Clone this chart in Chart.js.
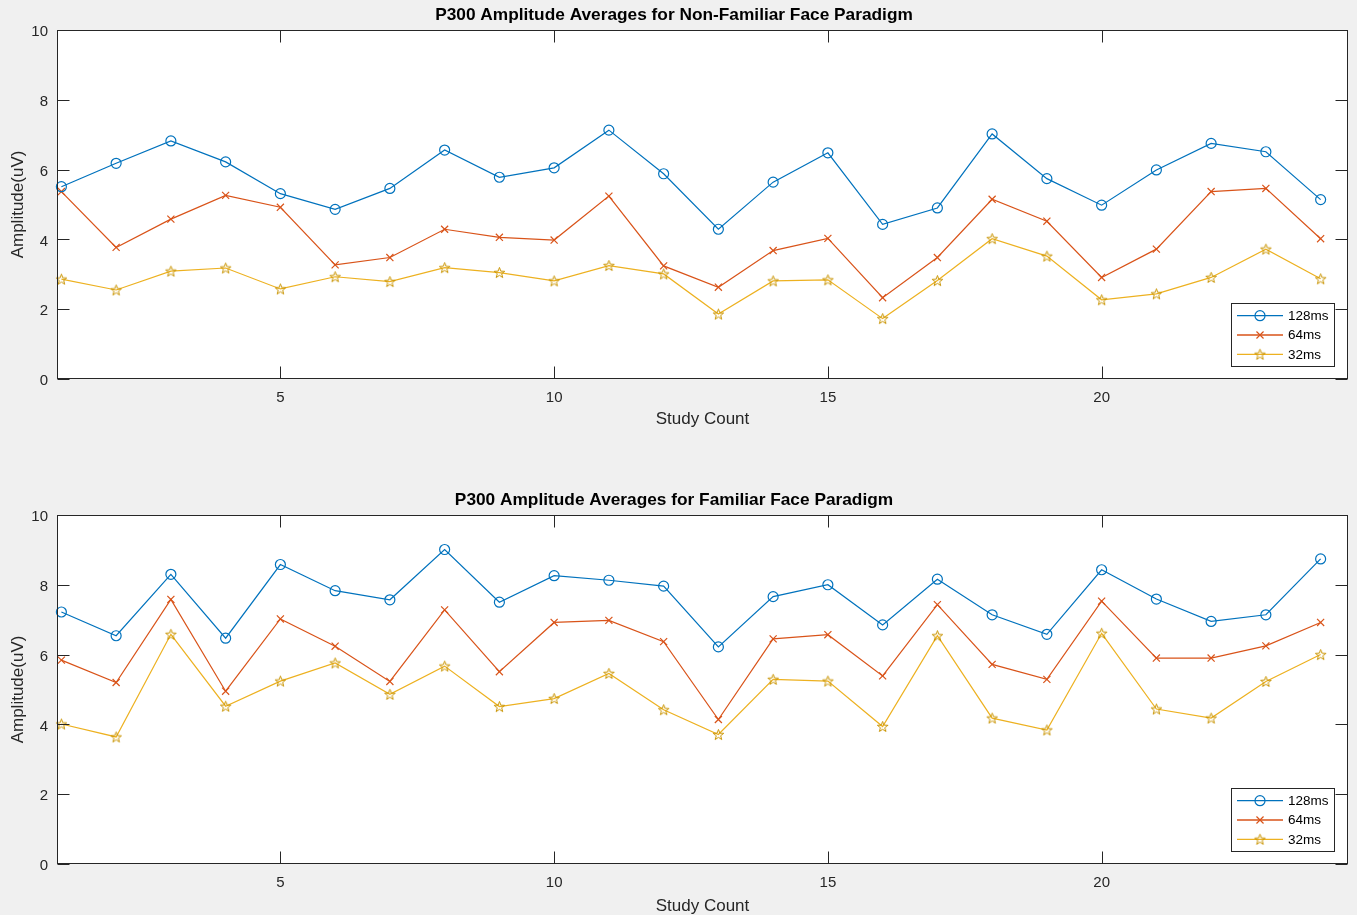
<!DOCTYPE html>
<html><head><meta charset="utf-8">
<script src="https://cdn.jsdelivr.net/npm/chart.js@4.4.0/dist/chart.umd.min.js"></script>
<style>
html,body{margin:0;padding:0;background:#f0f0f0;width:1357px;height:915px;overflow:hidden;}
.wrap{position:absolute;left:0;width:1357px;height:430px;}
#w1{top:0}
#w2{top:485px}
canvas{display:block}
</style></head><body>
<div class="wrap" id="w1"><canvas id="c1" width="1357" height="430"></canvas></div>
<div class="wrap" id="w2"><canvas id="c2" width="1357" height="430"></canvas></div>
<script>
// ---------- data ----------
const studyCount = [1,2,3,4,5,6,7,8,9,10,11,12,13,14,15,16,17,18,19,20,21,22,23,24];
const xTickValues = [5,10,15,20];
const yTickValues = [0,2,4,6,8,10];
const seriesLabels = ['128ms','64ms','32ms'];
const chartTitles = ['P300 Amplitude Averages for Non-Familiar Face Paradigm','P300 Amplitude Averages for Familiar Face Paradigm'];
const xAxisTitle = 'Study Count';
const yAxisTitle = 'Amplitude(uV)';

const nonFamiliar128 = [5.51,6.18,6.82,6.22,5.31,4.86,5.46,6.56,5.78,6.05,7.13,5.88,4.29,5.64,6.48,4.43,4.90,7.02,5.74,4.98,5.99,6.75,6.51,5.14];
const nonFamiliar64  = [5.37,3.77,4.58,5.26,4.92,3.27,3.48,4.29,4.06,3.98,5.24,3.24,2.63,3.68,4.03,2.33,3.48,5.15,4.52,2.91,3.72,5.37,5.46,4.02];
const nonFamiliar32  = [2.86,2.55,3.09,3.18,2.58,2.93,2.79,3.19,3.05,2.81,3.25,3.01,1.86,2.81,2.84,1.73,2.82,4.02,3.52,2.27,2.44,2.91,3.72,2.87];

const familiar128 = [7.22,6.54,8.30,6.47,8.58,7.83,7.57,9.01,7.50,8.26,8.13,7.96,6.22,7.66,8.00,6.85,8.16,7.14,6.58,8.43,7.59,6.95,7.14,8.74];
const familiar64  = [5.84,5.20,7.58,4.95,7.02,6.24,5.23,7.28,5.51,6.92,6.98,6.37,4.14,6.45,6.57,5.39,7.43,5.72,5.29,7.53,5.90,5.90,6.25,6.92];
const familiar32  = [4.01,3.64,6.58,4.52,5.24,5.76,4.86,5.67,4.51,4.74,5.46,4.42,3.71,5.29,5.24,3.94,6.54,4.18,3.84,6.61,4.44,4.18,5.23,6.00];

// ---------- styling ----------
const COLORS = ['#0072BD','#D95319','#EDB120'];
const AXIS = '#262626';
const FONT = '"Liberation Sans", Arial, Helvetica, sans-serif';

function makePentagram(){
  const c = document.createElement('canvas');
  c.width = 13; c.height = 13;
  const g = c.getContext('2d');
  const cx = 6.5, cy = 7, R = 5.6, r = 2.3;
  g.beginPath();
  for (let i = 0; i < 10; i++) {
    const ang = -Math.PI/2 + i*Math.PI/5;
    const rad = (i % 2 === 0) ? R : r;
    const px = cx + rad*Math.cos(ang), py = cy + rad*Math.sin(ang);
    if (i === 0) g.moveTo(px, py); else g.lineTo(px, py);
  }
  g.closePath();
  g.strokeStyle = '#C99400';
  g.lineWidth = 1;
  g.stroke();
  return c;
}
const starImg = makePentagram();

function pts(vals){ return studyCount.map((x,i)=>({x:x, y:vals[i]})); }

function makeDatasets(v128, v64, v32){
  const styles = ['circle','crossRot', starImg];
  const radii = [5,5,6];
  return [v128, v64, v32].map((vals, i) => ({
    label: seriesLabels[i],
    data: pts(vals),
    borderColor: COLORS[i],
    backgroundColor: 'rgba(0,0,0,0)',
    borderWidth: 1.2,
    pointStyle: styles[i],
    pointRadius: radii[i],
    pointBorderWidth: 1.2,
    pointBorderColor: COLORS[i],
    pointBackgroundColor: 'rgba(0,0,0,0)',
    tension: 0,
    clip: false
  }));
}

function drawMarker(ctx, ds, x, y){
  ctx.save();
  ctx.strokeStyle = ds.pointBorderColor;
  ctx.fillStyle = 'rgba(0,0,0,0)';
  ctx.lineWidth = ds.pointBorderWidth;
  if (Chart.helpers && Chart.helpers.drawPoint) {
    Chart.helpers.drawPoint(ctx, {pointStyle: ds.pointStyle, rotation: 0, radius: ds.pointRadius, borderWidth: ds.pointBorderWidth}, x, y);
  } else if (ds.pointStyle instanceof HTMLCanvasElement) {
    ctx.drawImage(ds.pointStyle, x - ds.pointStyle.width/2, y - ds.pointStyle.height/2);
  } else {
    ctx.beginPath(); ctx.arc(x, y, ds.pointRadius, 0, Math.PI*2); ctx.stroke();
  }
  ctx.restore();
}

const framePlugin = {
  id: 'matlabFrame',
  beforeDraw(chart){
    const {ctx, chartArea: a} = chart;
    ctx.save();
    ctx.fillStyle = '#ffffff';
    ctx.fillRect(a.left, a.top, a.right - a.left, a.bottom - a.top);
    ctx.restore();
  },
  afterDatasetsDraw(chart){
    const {ctx, chartArea: a, scales: {x, y}} = chart;
    ctx.save();
    ctx.strokeStyle = AXIS;
    ctx.lineWidth = 1;
    const L = Math.round(a.left) + 0.5, R = Math.round(a.right) - 0.5;
    const T = Math.round(a.top) + 0.5, B = Math.round(a.bottom) - 0.5;
    const tl = 12;
    ctx.beginPath();
    y.ticks.forEach(t => {
      const p = Math.round(y.getPixelForValue(t.value)) + 0.5;
      ctx.moveTo(L, p); ctx.lineTo(L + tl, p);
      ctx.moveTo(R, p); ctx.lineTo(R - tl, p);
    });
    x.ticks.forEach(t => {
      const p = Math.round(x.getPixelForValue(t.value)) + 0.5;
      ctx.moveTo(p, B); ctx.lineTo(p, B - tl);
      ctx.moveTo(p, T); ctx.lineTo(p, T + tl);
    });
    ctx.stroke();
    ctx.strokeRect(L, T, R - L, B - T);

    // legend (inside, lower right)
    const bw = 104, bh = 64;
    const bR = Math.round(a.right - 12.7), bB = Math.round(a.bottom - 12);
    const bL = bR - bw, bT = bB - bh;
    ctx.fillStyle = '#ffffff';
    ctx.fillRect(bL, bT, bw, bh);
    ctx.strokeStyle = AXIS;
    ctx.strokeRect(bL + 0.5, bT + 0.5, bw - 1, bh - 1);
    chart.data.datasets.forEach((ds, i) => {
      const ry = bT + 12.7 + i*19.3;
      ctx.beginPath();
      ctx.strokeStyle = ds.borderColor;
      ctx.lineWidth = 1.3;
      ctx.moveTo(bL + 6, ry); ctx.lineTo(bL + 52, ry);
      ctx.stroke();
      drawMarker(ctx, ds, bL + 29, ry);
      ctx.fillStyle = '#000000';
      ctx.font = '13.5px ' + FONT;
      ctx.textBaseline = 'middle';
      ctx.textAlign = 'left';
      ctx.fillText(ds.label, bL + 57, ry + 0.5);
    });
    ctx.restore();
  }
};

function makeChart(canvasId, title, datasets, xTitleBottomPad){
  return new Chart(document.getElementById(canvasId), {
    type: 'line',
    data: { datasets: datasets },
    plugins: [framePlugin],
    options: {
      responsive: false,
      animation: false,
      events: [],
      layout: { padding: { left: 0, right: 9, top: 0, bottom: 0 } },
      plugins: {
        legend: { display: false },
        tooltip: { enabled: false },
        title: {
          display: true,
          text: title,
          color: '#000000',
          font: { family: FONT, size: 17.3, weight: 'bold', lineHeight: 1.2 },
          padding: { top: 5, bottom: 4.2 }
        }
      },
      scales: {
        x: {
          type: 'linear',
          min: 0.92,
          max: 24.5,
          afterBuildTicks: (s) => { s.ticks = xTickValues.map(v => ({value: v})); },
          afterFit: (s) => { s.height = 51; },
          grid: { display: false, drawTicks: false },
          border: { display: false },
          ticks: {
            color: AXIS,
            padding: 10,
            maxRotation: 0,
            autoSkip: false,
            font: { family: FONT, size: 15, lineHeight: 1.2 }
          },
          title: {
            display: true,
            text: xAxisTitle,
            color: AXIS,
            font: { family: FONT, size: 17, lineHeight: 1.2 },
            padding: { top: 0, bottom: xTitleBottomPad }
          }
        },
        y: {
          type: 'linear',
          min: 0,
          max: 10,
          afterBuildTicks: (s) => { s.ticks = yTickValues.map(v => ({value: v})); },
          afterFit: (s) => { s.width = 57; },
          grid: { display: false, drawTicks: false },
          border: { display: false },
          ticks: {
            color: AXIS,
            padding: 9,
            labelOffset: 2,
            font: { family: FONT, size: 15, lineHeight: 1.2 }
          },
          title: {
            display: true,
            text: yAxisTitle,
            color: AXIS,
            font: { family: FONT, size: 17, lineHeight: 1.2 },
            padding: { top: 8, bottom: 0 }
          }
        }
      }
    }
  });
}

makeChart('c1', chartTitles[0], makeDatasets(nonFamiliar128, nonFamiliar64, nonFamiliar32), 0.8);
makeChart('c2', chartTitles[1], makeDatasets(familiar128, familiar64, familiar32), -1.5);
</script>
</body></html>
